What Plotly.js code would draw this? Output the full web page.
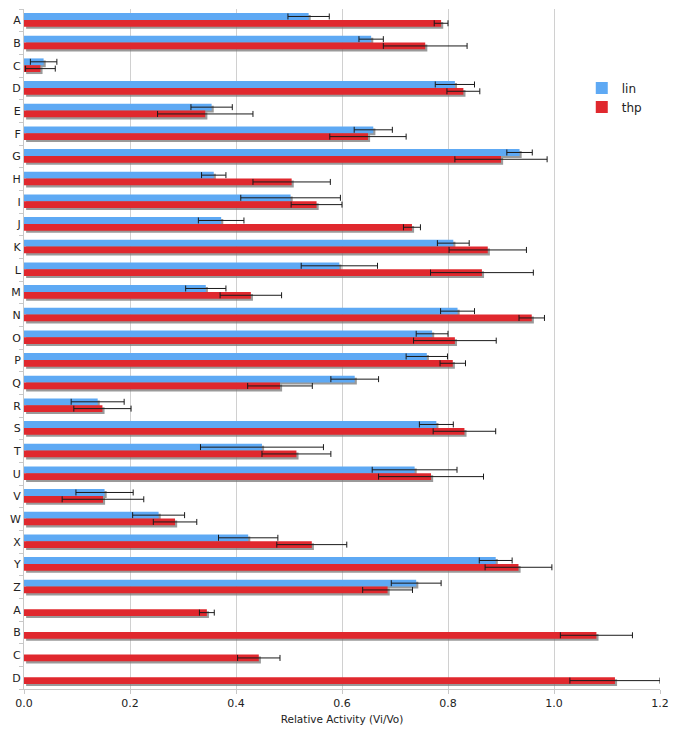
<!DOCTYPE html>
<html>
<head>
<meta charset="utf-8">
<script src="https://cdn.plot.ly/plotly-3.0.1.min.js"></script>
<style>html,body{margin:0;padding:0;background:#fff;}#chart{width:674px;height:731px;}</style>
</head>
<body>
<div id="chart"></div>
<script>
var categories = ['A','B','C','D','E','F','G','H','I','J','K','L','M','N','O','P','Q','R','S','T','U','V','W','X','Y','Z','A','B','C','D'];
var linValues = [0.537,0.655,0.037,0.813,0.354,0.659,0.935,0.358,0.503,0.372,0.810,0.595,0.343,0.818,0.770,0.760,0.624,0.139,0.778,0.449,0.737,0.152,0.254,0.423,0.890,0.740,null,null,null,null];
var linErrors = [0.039,0.023,0.025,0.037,0.039,0.036,0.024,0.023,0.094,0.043,0.030,0.072,0.038,0.032,0.030,0.039,0.045,0.050,0.032,0.116,0.080,0.054,0.049,0.056,0.031,0.047,null,null,null,null];
var thpValues = [0.787,0.757,0.031,0.829,0.342,0.649,0.900,0.505,0.552,0.732,0.875,0.864,0.428,0.958,0.813,0.809,0.483,0.148,0.831,0.514,0.768,0.149,0.285,0.543,0.933,0.686,0.345,1.080,0.443,1.115];
var thpErrors = [0.013,0.079,0.028,0.031,0.090,0.072,0.087,0.073,0.048,0.016,0.073,0.097,0.058,0.024,0.078,0.024,0.061,0.054,0.059,0.065,0.099,0.077,0.041,0.066,0.063,0.047,0.014,0.068,0.040,0.085];
var xTicks = [0, 0.2, 0.4, 0.6, 0.8, 1.0, 1.2];

var pos = categories.map(function(c, i){ return i; });
var BW = 0.3, SHX = 0.004, SHY = 0.09;
var blue = '#5ea9f4', red = '#e0282e', shadow = 'rgba(120,120,120,0.75)';
function err(arr){ return {type:'data', array:arr, visible:true, color:'#1a1a1a', thickness:1, width:3}; }

var traces = [
  {type:'bar', orientation:'h', y:pos, x:linValues, base:SHX, offset:-0.32+SHY, width:BW, marker:{color:shadow}, showlegend:false, hoverinfo:'skip'},
  {type:'bar', orientation:'h', y:pos, x:thpValues, base:SHX, offset:-0.02+SHY, width:BW, marker:{color:shadow}, showlegend:false, hoverinfo:'skip'},
  {type:'bar', orientation:'h', name:'lin', y:pos, x:linValues, offset:-0.32, width:BW, marker:{color:blue}, error_x:err(linErrors)},
  {type:'bar', orientation:'h', name:'thp', y:pos, x:thpValues, offset:-0.02, width:BW, marker:{color:red}, error_x:err(thpErrors)}
];

var layout = {
  width:674, height:731,
  margin:{l:24, r:14, t:9, b:42},
  paper_bgcolor:'#fff', plot_bgcolor:'#fff',
  barmode:'overlay',
  font:{family:'DejaVu Sans, Verdana, sans-serif', size:11, color:'#222'},
  xaxis:{range:[0,1.2], tickvals:xTicks, tickformat:'.1f', showgrid:true, gridcolor:'#d0d0d0', gridwidth:1,
         zeroline:false, showline:true, linecolor:'#c8c8c8', ticks:'outside', ticklen:4, tickcolor:'#c8c8c8',
         automargin:false, tickfont:{size:11, color:'#222'},
         title:{text:'Relative Activity (Vi/Vo)', font:{size:10.5, color:'#222'}, standoff:6}},
  yaxis:{range:[29.5,-0.5], tickvals:pos, ticktext:categories, showgrid:false, zeroline:false,
         showline:true, linecolor:'#c8c8c8', ticks:'', ticklen:0, automargin:false, tickfont:{size:11, color:'#222'},
         minor:{tick0:0.5, dtick:1, ticks:'outside', ticklen:4, tickcolor:'#c8c8c8', showgrid:false}},
  legend:{x:0.877, y:0.905, xanchor:'left', yanchor:'top', bgcolor:'rgba(0,0,0,0)', font:{size:12, color:'#222'}, traceorder:'normal', itemwidth:30},
  showlegend:true
};
Plotly.newPlot('chart', traces, layout, {displayModeBar:false, staticPlot:true});
</script>
</body>
</html>
